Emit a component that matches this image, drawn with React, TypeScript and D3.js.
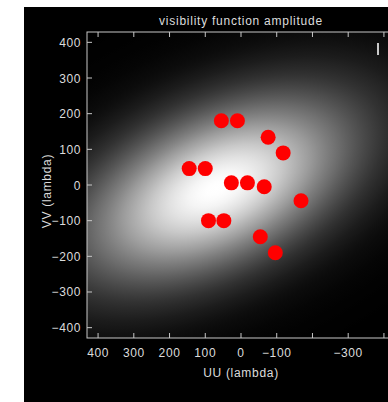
import React from 'react';
import * as d3 from 'd3';

const TITLE = 'visibility function amplitude';
const X_LABEL = 'UU (lambda)';
const Y_LABEL = 'VV (lambda)';

const X_TICKS = [400, 300, 200, 100, 0, -100, -200, -300, -400];
const X_TICK_LABELS = ['400', '300', '200', '100', '0', '−100', '', '−300', ''];
const Y_TICKS = [400, 300, 200, 100, 0, -100, -200, -300, -400];
const Y_TICK_LABELS = ['400', '300', '200', '100', '0', '−100', '−200', '−300', '−400'];

// uv sample points (lambda)
const UU = [55, 10, -76, -118, 145, 100, 27, -18, -65, -168, 91, 48, -54, -96];
const VV = [180, 180, 134, 90, 46, 46, 6, 6, -5, -44, -100, -100, -145, -190];

// gaussian amplitude model (data units)
const SRC_U0 = 69;
const SRC_V0 = -10;
const SIGMA_MAJOR = 280;
const SIGMA_MINOR = 145;
const ANGLE_DEG = 25;

const W = 388;
const H = 402;

export default function App() {
  const x = d3.scaleLinear().domain([431, -431]).range([87, 395]);
  const y = d3.scaleLinear().domain([429, -429]).range([32, 338]);
  const [x0, x1] = x.range();
  const [y0, y1] = y.range();

  const cx = x(SRC_U0);
  const cy = y(SRC_V0);
  const kx = Math.abs(x(1) - x(0));
  const sMaj = SIGMA_MAJOR * kx;
  const sMin = SIGMA_MINOR * kx;
  const NS = 4; // gradient radius in sigmas
  const stops = d3.range(0, 1.0001, 1 / 40).map((t) => {
    const r = t * NS;
    const g = Math.round(255 * Math.exp(-(r * r) / 2));
    return { t, c: `rgb(${g},${g},${g})` };
  });

  const axisColor = '#c8c8c8';
  const textColor = '#dcdcdc';
  const font = '"Liberation Sans", Arial, sans-serif';

  return (
    <div style={{ position: 'fixed', left: 0, top: 0 }}>
      <svg width={W} height={H} style={{ display: 'block' }}>
        <defs>
          <radialGradient
            id="gauss"
            gradientUnits="userSpaceOnUse"
            cx={0}
            cy={0}
            r={NS}
            gradientTransform={`translate(${cx},${cy}) rotate(${-ANGLE_DEG}) scale(${sMaj},${sMin})`}
          >
            {stops.map((s, i) => (
              <stop key={i} offset={s.t} stopColor={s.c} />
            ))}
          </radialGradient>
          <clipPath id="plotclip">
            <rect x={x0} y={y0} width={x1 - x0} height={y1 - y0} />
          </clipPath>
        </defs>
        <rect x={0} y={0} width={W} height={H} fill="#fff" />
        <rect x={24} y={7} width={W - 24} height={H - 7} fill="#000" />
        <g clipPath="url(#plotclip)">
          <rect x={x0} y={y0} width={x1 - x0} height={y1 - y0} fill="url(#gauss)" />
          {UU.map((u, i) => (
            <circle key={i} cx={x(u)} cy={y(VV[i])} r={7.5} fill="#ff0000" />
          ))}
        </g>
        {/* frame */}
        <rect x={x0} y={y0} width={x1 - x0} height={y1 - y0} fill="none" stroke={axisColor} strokeWidth={1} />
        {X_TICKS.map((t, i) => (
          <g key={'xt' + i}>
            <line x1={x(t)} x2={x(t)} y1={y0} y2={y0 + 5} stroke={axisColor} />
            <line x1={x(t)} x2={x(t)} y1={y1} y2={y1 - 5} stroke={axisColor} />
            <text
              x={x(t)}
              y={357}
              textAnchor="middle"
              fill={textColor}
              fontFamily={font}
              fontSize={12}
              letterSpacing={0.6}
            >
              {X_TICK_LABELS[i]}
            </text>
          </g>
        ))}
        {Y_TICKS.map((t, i) => (
          <g key={'yt' + i}>
            <line x1={x0} x2={x0 + 5} y1={y(t)} y2={y(t)} stroke={axisColor} />
            <text
              x={81}
              y={y(t) + 4.5}
              textAnchor="end"
              fill={textColor}
              fontFamily={font}
              fontSize={12}
              letterSpacing={0.6}
            >
              {Y_TICK_LABELS[i]}
            </text>
          </g>
        ))}
        <line x1={378} x2={378} y1={43} y2={55} stroke={axisColor} strokeWidth={2} />
        <text x={241} y={25} textAnchor="middle" fill={textColor} fontFamily={font} fontSize={12} letterSpacing={0.75}>
          {TITLE}
        </text>
        <text x={241} y={377} textAnchor="middle" fill={textColor} fontFamily={font} fontSize={12} letterSpacing={0.7}>
          {X_LABEL}
        </text>
        <text
          transform={`translate(51,${y(0) + 6}) rotate(-90)`}
          textAnchor="middle"
          fill={textColor}
          fontFamily={font}
          fontSize={12}
          letterSpacing={0.7}
        >
          {Y_LABEL}
        </text>
      </svg>
    </div>
  );
}
